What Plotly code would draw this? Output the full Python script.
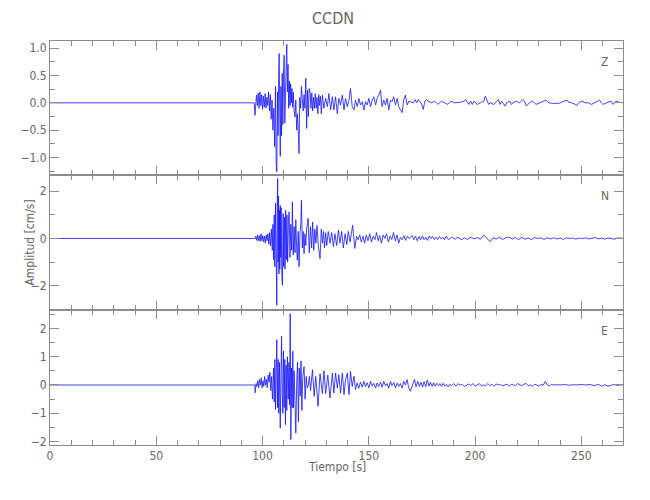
import plotly.graph_objects as go

# ---- data: (time [s], amplitude [cm/s]) samples ----
Z_SAMPLES = [
    (0, 0), (96.1, 0), (96.44, -0.23), (96.85, 0.10), (97.15, 0.14), (97.56, -0.05), (97.97, 0.18),
    (98.38, -0.10), (98.78, 0.20), (99.19, -0.05), (99.60, 0.15), (100.00, -0.12), (100.41, 0.12),
    (100.82, -0.08), (101.22, 0.17), (101.63, -0.10), (102.04, 0.10), (102.44, -0.05), (102.85, 0.20),
    (103.26, -0.15), (103.66, 0.15), (104.07, -0.30), (104.48, 0.05), (104.88, -0.50), (105.29, -0.10),
    (105.70, -0.80), (106.10, 0.30), (106.41, -1.10), (106.71, -1.26), (107.02, 0.20), (107.32, -0.60),
    (107.63, 0.60), (107.83, 0.90), (108.14, -0.30), (108.34, -0.98), (108.65, 0.30), (108.95, -0.60),
    (109.26, 0.54), (109.56, -0.40), (109.87, 0.50), (110.17, 0.87), (110.48, -0.37), (110.78, 0.40),
    (111.09, 0.96), (111.39, 1.07), (111.70, 0.20), (112.00, 0.70), (112.31, -0.10), (112.61, 0.40),
    (112.92, -0.05), (113.22, 0.35), (113.53, 0.00), (113.83, 0.26), (114.14, -0.08), (114.44, 0.20),
    (114.85, -0.15), (115.26, -0.26), (115.66, 0.05), (116.07, -0.50), (116.48, -0.20), (116.88, -0.87),
    (117.19, -0.93), (117.49, 0.10), (117.90, -0.10), (118.31, 0.30), (118.71, 0.00), (119.12, -0.15),
    (119.53, 0.15), (119.93, -0.10), (120.34, 0.45), (120.75, -0.47), (121.15, 0.23), (121.56, -0.25),
    (121.96, 0.26), (122.37, 0.20), (122.78, -0.10), (123.18, 0.18), (123.59, -0.15), (124.00, 0.10),
    (124.40, -0.10), (124.81, 0.17), (125.22, -0.10), (125.63, 0.10), (126.03, -0.20), (126.44, 0.15),
    (126.85, -0.05), (127.25, 0.12), (127.66, -0.20), (128.17, 0.14), (128.88, -0.10), (129.70, 0.08),
    (130.51, -0.07), (131.22, 0.17), (132.03, -0.13), (132.85, 0.11), (133.56, -0.13), (134.37, 0.11),
    (135.18, -0.20), (135.90, 0.08), (136.71, -0.04), (137.53, 0.14), (138.34, -0.13), (139.05, 0.08),
    (139.87, -0.07), (140.68, 0.05), (141.39, 0.26), (142.20, -0.07), (143.02, -0.13), (143.73, 0.05),
    (144.54, -0.07), (145.36, 0.08), (146.07, -0.04), (146.88, 0.02), (147.70, -0.13), (148.41, 0.02),
    (149.22, -0.04), (150.03, 0.08), (150.85, -0.07), (151.56, 0.05), (152.37, 0.11), (153.19, -0.04),
    (153.90, 0.08), (154.71, 0.14), (155.52, 0.23), (156.24, -0.07), (157.05, 0.05), (157.86, -0.04),
    (158.58, 0.08), (159.39, -0.13), (160.20, 0.05), (160.92, 0.02), (161.73, 0.11), (162.54, -0.04),
    (163.36, 0.08), (164.07, -0.07), (164.88, -0.13), (165.70, -0.18), (166.41, 0.05), (167.22, 0.14),
    (168.04, -0.04), (168.85, 0.03), (171.0, 0.00), (171.8, 0.06), (172.5, 0.00), (173.3, 0.06),
    (174.9, -0.03), (175.6, -0.12), (176.4, 0.03), (177.2, 0.06), (177.9, 0.03), (179.5, 0.00),
    (181.0, 0.03), (182.5, -0.03), (184.1, 0.03), (185.6, 0.00), (187.2, -0.03), (188.7, 0.03),
    (190.2, 0.00), (193.3, 0.01), (194.8, 0.03), (195.6, 0.06), (196.4, 0.00), (197.1, -0.03),
    (197.9, 0.03), (198.7, -0.03), (199.5, 0.03), (201.0, -0.03), (202.5, 0.00), (204.1, 0.03),
    (204.8, 0.12), (205.6, 0.03), (206.4, -0.03), (207.1, 0.00), (208.7, -0.03), (210.2, 0.03),
    (211.0, 0.06), (211.8, -0.03), (212.5, 0.03), (214.1, -0.06), (214.8, 0.00), (216.4, 0.03),
    (217.1, -0.03), (217.9, 0.00), (219.4, 0.03), (221.0, 0.00), (221.7, 0.03), (222.5, 0.06),
    (223.3, 0.03), (224.1, -0.06), (225.6, 0.00), (227.1, 0.03), (228.7, -0.03), (230.2, 0.00),
    (231.7, 0.03), (233.3, 0.05), (234.8, 0.00), (236.4, -0.01), (239.4, -0.01), (242.5, 0.03),
    (243.3, 0.05), (244.0, 0.01), (245.6, 0.00), (247.1, -0.03), (247.9, -0.05), (248.7, 0.00),
    (250.2, 0.03), (251.7, 0.00), (253.3, 0.00), (254.8, -0.03), (256.3, 0.00), (257.9, 0.03),
    (258.6, 0.05), (259.4, 0.00), (260.2, -0.03), (262.5, 0.01), (264.0, 0.03), (264.8, -0.03),
    (265.6, 0.00), (266.4, 0.03), (267.9, 0.01), (269.6, 0.00),
]

N_SAMPLES = [
    (0, 0), (96.65, 0), (96.85, 0.10), (97.26, -0.08), (97.66, 0.15), (98.07, -0.10), (98.47, 0.12),
    (98.88, -0.12), (99.29, 0.20), (99.70, -0.10), (100.10, 0.12), (100.51, -0.15), (100.92, 0.10),
    (101.32, -0.20), (101.73, 0.15), (102.14, -0.10), (102.54, 0.20), (102.95, -0.25), (103.36, 0.25),
    (103.76, -0.30), (104.17, 0.40), (104.58, -0.50), (104.88, 0.60), (105.19, -0.90), (105.49, 1.00),
    (105.80, -1.20), (106.10, 1.50), (106.41, -1.80), (106.71, -2.83), (106.92, 1.50), (107.12, 2.54),
    (107.32, -1.00), (107.53, 1.80), (107.73, -1.50), (107.94, 1.20), (108.14, -1.30), (108.34, 1.40),
    (108.55, -0.80), (108.75, 1.30), (109.06, -1.50), (109.36, -1.98), (109.67, 1.06), (109.97, -1.20),
    (110.27, 0.90), (110.58, -1.30), (110.88, 1.20), (111.19, -0.90), (111.49, 1.00), (111.80, -1.00),
    (112.21, 0.80), (112.51, 1.13), (112.92, -0.80), (113.32, 0.60), (113.73, -0.50), (114.04, 1.55),
    (114.44, -0.70), (114.85, 0.50), (115.26, -0.60), (115.66, 0.80), (116.07, -0.50), (116.37, -0.92),
    (116.78, 0.30), (117.19, -1.20), (117.59, 0.20), (118.00, 0.60), (118.31, 1.62), (118.71, -0.40),
    (119.12, 0.30), (119.53, -0.65), (119.93, 0.20), (120.34, -0.30), (120.75, 0.40), (121.46, 0.85),
    (121.97, -0.60), (122.58, 0.50), (123.09, -0.40), (123.59, 0.70), (124.10, -0.50), (124.61, 0.40),
    (125.12, -0.20), (125.63, 0.55), (126.24, -0.30), (127.05, -0.85), (127.66, 0.40), (128.17, -0.20),
    (128.68, 0.30), (129.18, -0.40), (129.70, 0.25), (130.20, -0.30), (130.92, 0.30), (131.73, -0.20),
    (132.54, 0.25), (133.36, -0.35), (134.07, 0.20), (134.88, -0.30), (135.70, 0.35), (136.41, -0.20),
    (137.22, 0.30), (138.03, -0.40), (138.85, 0.20), (139.66, -0.25), (140.37, 0.30), (141.19, -0.15),
    (142.41, 0.56), (143.42, -0.42), (144.24, 0.10), (144.95, -0.05), (145.76, 0.15), (146.47, -0.15),
    (147.29, 0.10), (148.00, -0.20), (148.81, 0.15), (149.62, -0.10), (150.44, 0.20), (151.25, -0.15),
    (152.07, 0.10), (152.88, -0.05), (153.59, 0.25), (154.41, -0.10), (155.12, 0.12), (155.93, -0.20),
    (156.75, 0.15), (157.56, 0.00), (158.37, 0.20), (159.19, -0.15), (160.00, 0.10), (160.81, -0.05),
    (161.63, 0.25), (162.44, -0.10), (163.25, 0.15), (164.07, -0.20), (164.88, 0.05), (165.70, -0.05),
    (166.51, 0.12), (167.32, -0.08), (168.13, 0.10), (168.95, 0.00), (170.4, 0.12), (171.2, -0.05),
    (172.0, 0.10), (172.8, -0.10), (173.6, 0.08), (174.4, -0.05), (175.2, 0.10), (176.0, -0.05),
    (176.8, 0.05), (177.6, -0.08), (178.4, 0.10), (179.2, 0.00), (180.0, 0.10), (180.8, -0.05),
    (181.6, 0.05), (182.4, -0.05), (183.2, 0.08), (184.0, -0.02), (184.8, 0.05), (185.6, -0.05),
    (186.4, 0.10), (187.5, -0.05), (189.0, 0.06), (190.5, -0.03), (192.0, 0.05), (193.5, -0.05),
    (195.0, 0.03), (196.5, -0.04), (198.0, 0.05), (199.5, -0.02), (201.0, 0.04), (202.5, -0.03),
    (204.0, 0.15), (205.5, 0.00), (207.1, -0.14), (208.5, 0.03), (210.0, -0.02), (211.5, 0.05),
    (213.0, -0.04), (214.5, 0.03), (216.0, 0.06), (217.5, -0.02), (219.0, 0.04), (220.5, -0.05),
    (222.0, 0.05), (223.5, -0.03), (225.0, 0.02), (226.5, -0.05), (228.0, 0.04), (229.5, 0.00),
    (231.0, 0.03), (232.5, -0.04), (234.0, 0.03), (235.5, -0.02), (237.0, 0.03), (238.5, -0.02),
    (240.0, 0.02), (241.5, -0.04), (243.0, 0.03), (244.5, 0.00), (246.0, 0.02), (247.5, -0.03),
    (249.0, 0.02), (250.5, -0.01), (252.0, 0.03), (253.5, -0.02), (255.0, 0.01), (256.5, 0.04),
    (258.0, -0.02), (259.5, 0.02), (261.0, -0.03), (262.5, 0.02), (264.0, 0.00), (265.5, -0.03),
    (267.0, 0.02), (268.5, 0.00), (269.6, 0.01),
]

E_SAMPLES = [
    (0, 0), (96.34, 0), (96.54, -0.28), (96.95, 0.05), (97.36, -0.05), (97.76, 0.15), (98.17, -0.10),
    (98.58, 0.20), (98.98, 0.00), (99.39, 0.25), (99.80, -0.10), (100.20, 0.15), (100.61, -0.05),
    (101.02, 0.30), (101.42, 0.00), (101.83, 0.20), (102.24, -0.10), (102.64, 0.35), (103.05, 0.10),
    (103.46, 0.45), (103.87, -0.20), (104.27, 0.30), (104.68, -0.50), (105.19, 0.60), (105.49, -0.60),
    (105.80, 0.90), (106.10, -0.87), (106.41, 1.20), (106.71, 1.60), (107.02, -0.80), (107.32, 0.90),
    (107.63, -1.00), (107.94, 0.80), (108.34, -1.52), (108.65, 0.50), (108.95, 1.72), (109.26, -0.30),
    (109.56, -1.00), (109.87, 1.20), (110.17, -0.80), (110.48, 0.90), (110.78, -1.40), (111.09, 0.70),
    (111.39, -0.90), (111.70, 1.00), (112.10, -0.50), (112.41, 0.80), (112.71, -0.70), (113.02, 2.52),
    (113.32, -1.93), (113.63, 0.60), (113.93, -0.80), (114.24, 1.19), (114.54, -0.80), (114.85, 0.50),
    (115.26, -1.20), (115.66, -1.70), (116.07, 0.10), (116.48, 0.80), (116.88, -1.30), (117.29, 0.60),
    (117.70, -0.40), (118.10, 0.85), (118.51, -0.90), (118.92, 0.30), (119.53, 0.65), (120.03, -0.50),
    (120.54, 0.30), (121.05, -0.10), (121.56, 0.00), (122.07, 0.30), (122.58, -0.20), (123.49, 0.54),
    (124.31, -0.40), (125.02, 0.30), (126.14, -0.75), (127.05, 0.40), (128.17, -0.30), (128.88, 0.50),
    (129.70, -0.30), (130.71, 0.35), (131.73, -0.46), (132.85, 0.42), (133.56, -0.28), (134.37, 0.42),
    (135.18, -0.11), (135.90, 0.36), (136.71, -0.28), (137.53, 0.42), (138.34, -0.34), (139.05, 0.19),
    (139.87, 0.42), (140.68, -0.34), (141.39, 0.48), (142.20, -0.05), (143.02, 0.31), (143.73, -0.16),
    (144.54, 0.07), (145.25, -0.12), (146.07, 0.10), (146.88, -0.08), (147.70, 0.13), (148.41, -0.06),
    (149.22, 0.08), (150.03, -0.10), (150.85, 0.13), (151.56, -0.04), (152.37, 0.06), (153.19, -0.11),
    (153.90, 0.07), (154.71, -0.05), (155.52, 0.10), (156.24, -0.08), (157.05, 0.13), (157.86, -0.03),
    (158.58, 0.05), (159.39, -0.11), (160.20, 0.13), (160.92, -0.02), (161.73, 0.09), (162.54, -0.10),
    (163.36, 0.07), (164.07, -0.05), (164.88, 0.05), (165.70, -0.11), (166.41, 0.13), (167.22, 0.00),
    (168.04, 0.19), (168.74, -0.10), (169.56, -0.22), (171.0, 0.05), (171.5, 0.20), (172.2, -0.07),
    (173.0, 0.13), (173.8, -0.05), (174.5, 0.10), (175.3, -0.08), (176.0, 0.12), (176.8, -0.06),
    (177.5, 0.18), (178.3, -0.04), (179.0, 0.10), (179.8, -0.05), (180.5, 0.08), (181.2, -0.04),
    (182.0, 0.06), (182.8, -0.02), (183.5, 0.05), (184.3, -0.05), (185.0, 0.06), (185.8, -0.04),
    (186.5, 0.02), (187.3, -0.07), (188.0, 0.02), (189.0, -0.02), (190.0, 0.05), (191.0, -0.04),
    (192.0, 0.05), (193.0, 0.00), (194.0, 0.02), (195.0, -0.05), (196.0, 0.00), (197.0, 0.04),
    (198.0, -0.02), (199.0, 0.05), (200.0, -0.04), (201.0, 0.02), (202.0, 0.05), (203.0, -0.03),
    (204.0, 0.00), (205.0, -0.02), (206.0, 0.05), (207.0, -0.02), (208.0, 0.02), (209.0, -0.05),
    (210.0, 0.04), (211.0, 0.00), (212.0, 0.02), (213.0, -0.03), (214.0, 0.00), (215.0, 0.03),
    (216.0, -0.05), (217.0, 0.03), (218.0, 0.00), (219.0, -0.02), (220.0, 0.05), (221.0, 0.00),
    (222.0, -0.03), (223.0, 0.03), (224.0, 0.05), (225.0, -0.02), (226.0, 0.00), (227.0, -0.05),
    (228.0, 0.03), (229.0, 0.00), (230.0, -0.04), (231.0, 0.02), (232.0, -0.01), (233.0, 0.12),
    (234.0, 0.00), (235.0, -0.03), (236.0, 0.02), (237.0, 0.00), (238.0, 0.01), (240.0, 0.00),
    (242.0, 0.02), (244.0, -0.01), (246.0, 0.01), (248.0, 0.00), (250.0, 0.02), (252.0, 0.00),
    (254.0, 0.02), (256.0, -0.02), (258.0, 0.02), (259.5, -0.04), (261.0, 0.01), (262.5, -0.04),
    (264.0, 0.00), (265.5, 0.02), (267.0, -0.02), (268.5, 0.01), (269.6, 0.00),
]

COMPONENTS = ["Z", "N", "E"]
TITLE = "CCDN"
X_TITLE = "Tiempo [s]"
Y_TITLE = "Amplitud [cm/s]"
X_RANGE = [0, 269.6]

# ---- styling ----
FONT = "Liberation Sans Narrow, DejaVu Sans Condensed, Liberation Sans, sans-serif"
GREY = "#8c8c8c"
TEXT = "#666666"
LINE = "#1414ff"

series = [Z_SAMPLES, N_SAMPLES, E_SAMPLES]
domains = [[0.6683, 1.0], [0.3342, 0.6683], [0.0, 0.3342]]
yranges = [[-1.32, 1.13], [-3.03, 2.69], [-2.12, 2.65]]
ydticks = [0.5, 2, 1]
yminor = [0.25, 1, 0.5]
yfmt = [".1f", "d", "d"]

fig = go.Figure()
for i, s in enumerate(series):
    t = [p[0] for p in s]
    v = [p[1] for p in s]
    sfx = "" if i == 0 else str(i + 1)
    fig.add_trace(go.Scatter(x=t, y=v, mode="lines", xaxis="x" + sfx, yaxis="y" + sfx,
                             line=dict(color=LINE, width=0.8), showlegend=False,
                             hoverinfo="skip"))

common_axis = dict(showline=True, linecolor=GREY, linewidth=1, mirror="ticks",
                   ticks="inside", tickcolor=GREY, showgrid=False, zeroline=False,
                   tickfont=dict(family=FONT, size=12, color=TEXT))

layout = dict(
    width=650, height=500,
    margin=dict(l=40, r=35, t=33, b=63),
    paper_bgcolor="white", plot_bgcolor="white",
    title=dict(text=TITLE, x=0.5, xanchor="center", y=0.98, yanchor="middle",
               font=dict(family=FONT, size=16, color=TEXT)),
    annotations=[],
)

for i in range(3):
    sfx = "" if i == 0 else str(i + 1)
    layout["xaxis" + sfx] = dict(common_axis, domain=[0, 1], anchor="y" + sfx,
                                 range=X_RANGE, dtick=50, tick0=0, ticklen=9,
                                 minor=dict(dtick=10, ticklen=5, ticks="inside", tickcolor=GREY),
                                 showticklabels=(i == 2),
                                 **({} if i == 0 else {"matches": "x"}))
    layout["yaxis" + sfx] = dict(common_axis, domain=domains[i], anchor="x" + sfx,
                                 range=yranges[i], dtick=ydticks[i], tick0=0, ticklen=9,
                                 tickformat=yfmt[i],
                                 minor=dict(dtick=yminor[i], ticklen=5, ticks="inside", tickcolor=GREY))
    layout["annotations"].append(dict(text=COMPONENTS[i], xref="paper", yref="paper",
                                      x=0.968, y=domains[i][1] - 0.052, showarrow=False,
                                      xanchor="center", yanchor="middle",
                                      font=dict(family=FONT, size=12, color=TEXT)))

layout["annotations"].append(dict(text=X_TITLE, xref="paper", yref="paper", x=0.5, y=-0.0545,
                                  showarrow=False, xanchor="center", yanchor="middle",
                                  font=dict(family=FONT, size=12, color=TEXT)))
layout["annotations"].append(dict(text=Y_TITLE, xref="paper", yref="paper", x=-0.0357, y=0.50,
                                  showarrow=False, textangle=-90, xanchor="center",
                                  yanchor="middle", font=dict(family=FONT, size=12, color=TEXT)))

fig.update_layout(**layout)
fig.write_html("out.html")
